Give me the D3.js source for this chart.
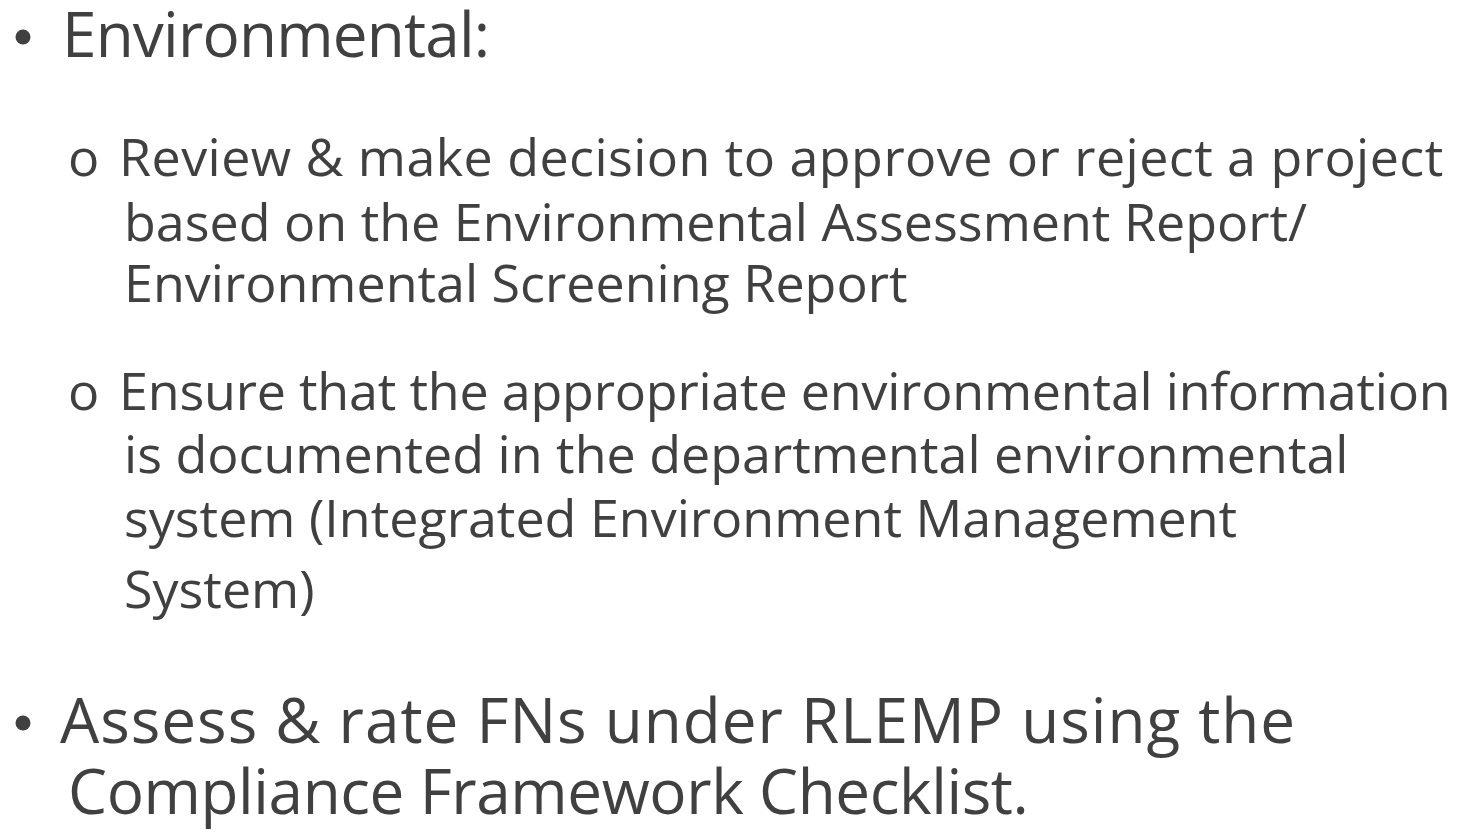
<!DOCTYPE html>
<html>
<head>
<meta charset="utf-8">
<script src="https://cdn.jsdelivr.net/npm/d3@7"></script>
<style>
  html, body { margin: 0; padding: 0; background: #fff; }
  text { font-family: "Open Sans", "Noto Sans", sans-serif; fill: #404040; }
</style>
</head>
<body>
<div id="chart"></div>
<script>
// Data
var topBullet1   = "Environmental:";
var subItem1     = ["Review & make decision to approve or reject a project",
                    "based on the Environmental Assessment Report/",
                    "Environmental Screening Report"];
var subItem2     = ["Ensure that the appropriate environmental information",
                    "is documented in the departmental environmental",
                    "system (Integrated Environment Management",
                    "System)"];
var topBullet2   = ["Assess & rate FNs under RLEMP using the",
                    "Compliance Framework Checklist."];

// Size
var chart_width  = 1470;
var chart_height = 834;

var svg = d3.select("#chart")
    .append("svg")
    .attr("width", chart_width)
    .attr("height", chart_height);

var topSize = 62;
var subSize = 52;

// first level bullet
function bullet(y) {
    svg.append("circle")
        .attr("cx", 23)
        .attr("cy", y - 20)
        .attr("r", 7.5)
        .style("fill", "#404040");
}

function line(txt, x, y, size, spacing) {
    return svg.append("text")
        .attr("x", x)
        .attr("y", y)
        .style("font-size", size + "px")
        .style("letter-spacing", (spacing || 0) + "px")
        .text(txt);
}

bullet(57);
line(topBullet1, 62, 57, topSize, -0.8);

// sub item 1
line("o", 68, 176, subSize);
line(subItem1[0], 119, 176, subSize, 0.45);
line(subItem1[1], 124, 241, subSize);
line(subItem1[2], 124, 302, subSize);

// sub item 2
line("o", 68, 410, subSize);
line(subItem2[0], 119, 410, subSize, -0.2);
line(subItem2[1], 124, 473, subSize);
line(subItem2[2], 124, 537, subSize);
line(subItem2[3], 124, 608, subSize);

// second top bullet
bullet(743);
line(topBullet2[0], 60, 743, topSize, 1.0);
line(topBullet2[1], 68, 814, topSize, -0.4);
</script>
</body>
</html>
